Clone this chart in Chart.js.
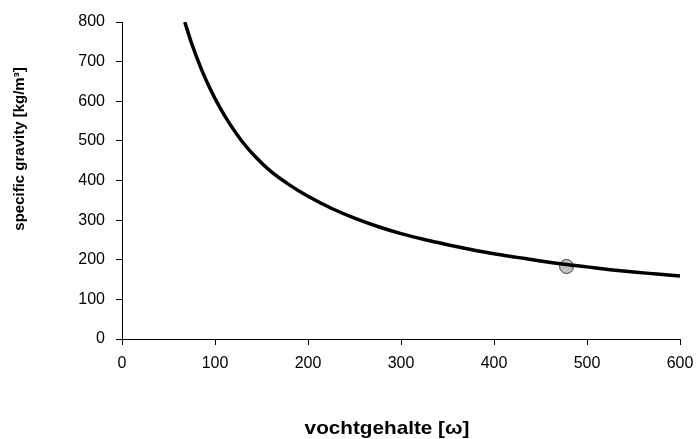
<!DOCTYPE html>
<html>
<head>
<meta charset="utf-8">
<style>
  html, body { margin: 0; padding: 0; background: #ffffff; }
  #wrap { width: 697px; height: 439px; }
</style>
<script src="https://cdn.jsdelivr.net/npm/chart.js@4.4.1/dist/chart.umd.min.js"></script>
</head>
<body>
<div id="wrap"><canvas id="c" width="697" height="439"></canvas></div>
<script>
// Values
const curveMoisture = [67.5, 75, 85, 95, 105, 115, 130, 145, 160, 180, 200, 225, 250, 275, 300, 325, 350, 375, 400, 425, 450, 478, 500, 525, 550, 575, 600];
const curveDensity  = [800, 745, 683, 630, 585, 546, 496, 456, 423, 389, 360, 330, 305, 284, 266, 251, 238, 226, 215, 206, 197, 188, 182, 175, 169, 164, 159];
const markerMoisture = [478];
const markerDensity  = [183];
const xTicks = [0, 100, 200, 300, 400, 500, 600];
const yTicks = [0, 100, 200, 300, 400, 500, 600, 700, 800];
const xTitle = 'vochtgehalte [\u03c9]';
const yTitle = 'specific gravity [kg/m\u00b3]';

const FONT = "'Liberation Sans', Arial, Helvetica, sans-serif";

const curvePts = curveMoisture.map((x, i) => ({ x: x, y: curveDensity[i] }));
const markerPts = markerMoisture.map((x, i) => ({ x: x, y: markerDensity[i] }));

const titlePlugin = {
  id: 'axisTitles',
  afterDraw(chart) {
    const ctx = chart.ctx;
    ctx.save();
    ctx.fillStyle = '#000';
    ctx.textAlign = 'center';
    ctx.textBaseline = 'alphabetic';
    // x title
    ctx.save();
    ctx.font = 'bold 19px ' + FONT;
    ctx.translate(387, 434);
    ctx.scale(1.09, 1);
    ctx.fillText(xTitle, 0, 0);
    ctx.restore();
    // y title
    ctx.save();
    ctx.font = 'bold 15px ' + FONT;
    ctx.translate(24, 149);
    ctx.rotate(-Math.PI / 2);
    ctx.fillText(yTitle, 0, 0);
    ctx.restore();
    ctx.restore();
  }
};

new Chart(document.getElementById('c'), {
  type: 'scatter',
  data: {
    datasets: [
      {
        label: 'curve',
        data: curvePts,
        showLine: true,
        borderColor: '#000000',
        borderWidth: 3.5,
        pointRadius: 0,
        pointHoverRadius: 0,
        cubicInterpolationMode: 'monotone',
        fill: false,
        order: 0
      },
      {
        label: 'point',
        data: markerPts,
        showLine: false,
        pointRadius: 7,
        pointBackgroundColor: '#c0c0c0',
        pointBorderColor: '#404040',
        pointBorderWidth: 1,
        order: 1
      }
    ]
  },
  options: {
    responsive: false,
    animation: false,
    devicePixelRatio: 1,
    layout: { padding: { top: 22, right: 17, bottom: 0, left: 0 } },
    plugins: {
      legend: { display: false },
      tooltip: { enabled: false },
      title: { display: false }
    },
    scales: {
      x: {
        type: 'linear',
        min: 0,
        max: 600,
        afterBuildTicks(scale) { scale.ticks = xTicks.map(v => ({ value: v })); },
        afterFit(scale) {
          scale.height = 100;
          scale.paddingLeft = 0;
          scale.paddingRight = 0;
        },
        border: { display: true, color: '#000', width: 1 },
        grid: { display: true, drawOnChartArea: false, drawTicks: true, tickLength: 6, color: '#000' },
        ticks: { color: '#000', font: { family: FONT, size: 16 }, padding: 9, maxRotation: 0 }
      },
      y: {
        type: 'linear',
        min: 0,
        max: 800,
        afterBuildTicks(scale) { scale.ticks = yTicks.map(v => ({ value: v })); },
        afterFit(scale) {
          scale.width = 122;
          scale.paddingTop = 0;
          scale.paddingBottom = 0;
        },
        border: { display: true, color: '#000', width: 1 },
        grid: { display: true, drawOnChartArea: false, drawTicks: true, tickLength: 6, color: '#000' },
        ticks: { color: '#000', font: { family: FONT, size: 16 }, padding: 11 }
      }
    }
  },
  plugins: [titlePlugin]
});
</script>
</body>
</html>
